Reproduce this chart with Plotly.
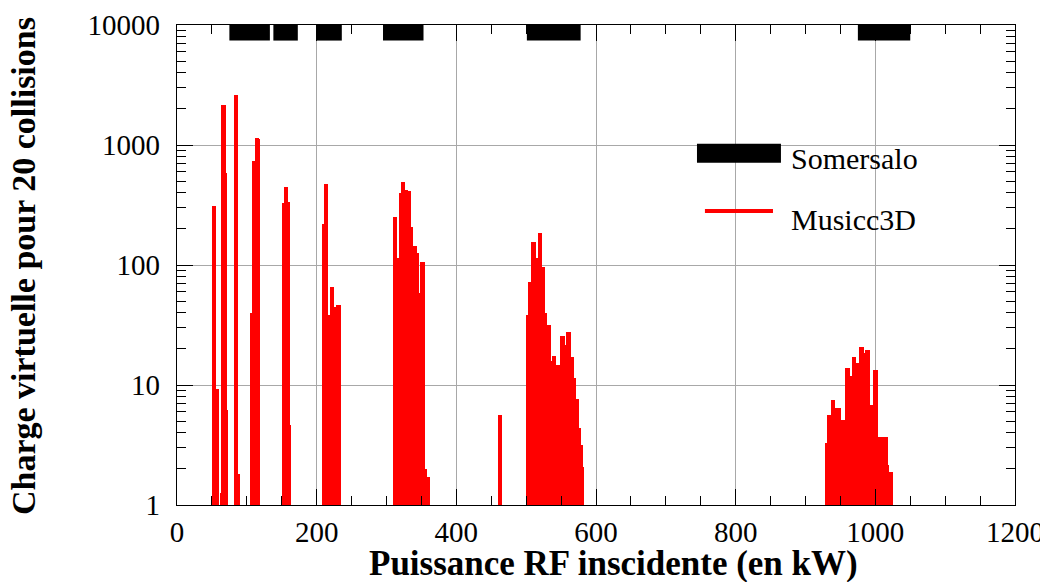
import plotly.graph_objects as go

# ---------------- data ----------------
# Musicc3D: virtual charge (20 collisions) vs incident RF power (kW)
musicc_power = [
    53.2, 56.4, 64.3, 66.25, 68.3, 70.3, 84.4, 86.5, 107.3, 108.2, 111.2, 114.5, 115.1,
    153.2, 155.8, 158.1, 159.6,
    211.5, 213.6, 215.5, 222.0, 224.0, 231.0,
    312.3, 314.8, 321.3, 323.5, 327.0, 331.5, 334.0, 340.6, 343.4, 344.9, 351.3, 355.4, 359.7,
    462.2,
    503.7, 505.7, 510.8, 513.5, 520.0, 524.0, 526.4, 532.6, 534.0, 540.0, 545.7, 551.8, 554.0,
    560.5, 565.5, 568.0, 572.7, 575.5, 577.6, 579.4,
    931.6, 933.6, 939.4, 945.5, 947.7, 953.9, 960.2, 963.0, 969.3, 971.6, 973.9, 980.3, 982.0,
    988.5, 993.1, 999.3, 1001.0, 1007.5, 1011.0, 1014.5, 1016.8, 1022.6,
]
musicc_charge = [
    310, 9.3, 1.25, 2150, 590, 6.2, 2600, 1.8, 6.5, 40, 740, 1150, 1130,
    330, 450, 337, 4.6,
    220, 470, 38, 66, 45, 46,
    253, 114, 396, 489, 420, 414, 209, 145, 125, 58, 105, 2.0, 1.72,
    5.6,
    38.3, 72.6, 156, 114, 185, 97, 39.6, 31.6, 15.8, 17.4, 14.7, 25.6, 21.5,
    27.6, 17.1, 11.4, 7.7, 4.35, 3.16, 2.09,
    3.27, 5.62, 7.5, 6.4, 6.4, 5.1, 13.8, 11.9, 17.0, 12.5, 15.2, 20.9, 18.4,
    19.6, 6.8, 13.3, 13.3, 3.7, 3.7, 3.7, 2.15, 1.87,
]

# Somersalo multipactor bands (kW)
somersalo_start = [75, 138, 200, 295, 501, 975]
somersalo_end = [133, 173, 236, 353, 578, 1050]
somersalo_level = 8900

x_ticks = [0, 200, 400, 600, 800, 1000, 1200]
y_ticks = [1, 10, 100, 1000, 10000]
y_ticklabels = ["1", "10", "100", "1000", "10000"]

# ---------------- figure ----------------
FONT = "Liberation Serif"
fig = go.Figure()

fig.add_trace(go.Bar(
    x=musicc_power, y=musicc_charge, width=6.5,
    marker=dict(color="#ff0000", line=dict(width=0)),
    name="Musicc3D", showlegend=False,
))

sx, sy = [], []
for a, b in zip(somersalo_start, somersalo_end):
    sx += [a, b, None]
    sy += [somersalo_level, somersalo_level, None]
fig.add_trace(go.Scatter(
    x=sx, y=sy, mode="lines", line=dict(color="black", width=19),
    name="Somersalo", showlegend=False, hoverinfo="skip",
))

axis_common = dict(
    showline=True, linecolor="black", linewidth=1.4, mirror="allticks",
    ticks="inside", tickcolor="black", tickwidth=1.2, ticklen=16,
    showgrid=True, gridcolor="#a8a8a8", gridwidth=1, zeroline=False,
    tickfont=dict(family=FONT, size=29, color="black"),
)

fig.update_xaxes(
    range=[0, 1200], tickvals=x_ticks, ticklabelstandoff=1, **axis_common,
    minor=dict(ticks="inside", ticklen=9, tickcolor="black", tickwidth=1.2, dtick=50, showgrid=False),
)
fig.update_yaxes(
    type="log", range=[0, 4], tickvals=y_ticks, ticktext=y_ticklabels,
    ticklabelstandoff=10, **axis_common,
    minor=dict(ticks="inside", ticklen=9, tickcolor="black", tickwidth=1.2, dtick="D1", showgrid=False),
)

# legend drawn manually
fig.add_shape(type="rect", xref="paper", yref="paper",
              x0=0.6205, x1=0.7207, y0=0.7131, y1=0.7527,
              fillcolor="black", line=dict(width=0))
fig.add_shape(type="line", xref="paper", yref="paper",
              x0=0.630, x1=0.7112, y0=0.6125, y1=0.6125,
              line=dict(color="#ff0000", width=4))
fig.add_annotation(x=0.7300, y=0.7229, xref="paper", yref="paper", text="Somersalo",
                   showarrow=False, xanchor="left", yanchor="middle",
                   font=dict(family=FONT, size=30, color="black"))
fig.add_annotation(x=0.7300, y=0.5958, xref="paper", yref="paper", text="Musicc3D",
                   showarrow=False, xanchor="left", yanchor="middle",
                   font=dict(family=FONT, size=30, color="black"))

# axis titles
fig.add_annotation(x=0.521, y=-0.122, xref="paper", yref="paper",
                   text="<b>Puissance RF inscidente (en kW)</b>", showarrow=False,
                   xanchor="center", yanchor="middle",
                   font=dict(family=FONT, size=35, color="black"))
fig.add_annotation(x=-0.183, y=0.497, xref="paper", yref="paper",
                   text="<b>Charge virtuelle pour 20 collisions</b>", showarrow=False,
                   textangle=-90, xanchor="center", yanchor="middle",
                   font=dict(family=FONT, size=34, color="black"))

fig.update_layout(
    width=1048, height=582,
    margin=dict(l=169, r=41, t=17, b=85, autoexpand=False),
    plot_bgcolor="white", paper_bgcolor="white",
    barmode="overlay", bargap=0, showlegend=False,
)

fig.write_html("out.html")
